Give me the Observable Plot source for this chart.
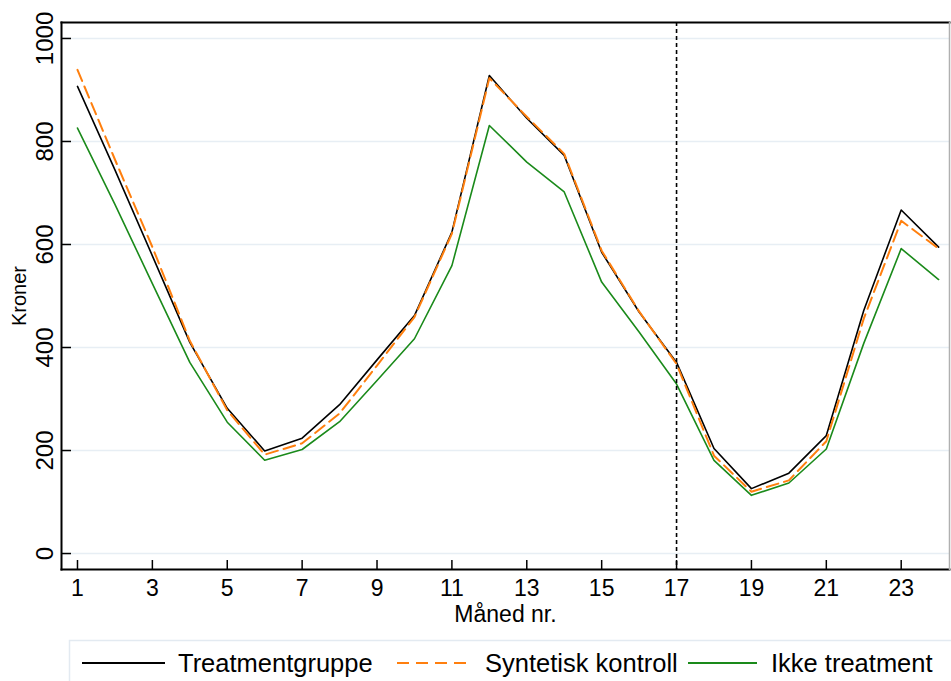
<!DOCTYPE html>
<html>
<head>
<meta charset="utf-8">
<script src="https://cdn.jsdelivr.net/npm/d3@7"></script>
<script src="https://cdn.jsdelivr.net/npm/@observablehq/plot@0.6"></script>
<style>
  body { margin: 0; background: #fff; font-family: "Liberation Sans", Arial, sans-serif; }
  #wrap { position: relative; width: 951px; height: 681px; overflow: hidden; background: #fff; }
  #chart { position: absolute; left: 0; top: 0; }
  #legend { position: absolute; left: 0; top: 630px; }
</style>
</head>
<body>
<div id="wrap">
  <div id="chart"></div>
  <svg id="legend" width="951" height="51"></svg>
</div>
<script>
// ---- data ----
const months = [1,2,3,4,5,6,7,8,9,10,11,12,13,14,15,16,17,18,19,20,21,22,23,24];
const treatment = [907,745,578,410,282,199,224,289,376,462,624,928,845,773,585,469,371,204,126,156,229,472,667,595];
const synthetic = [939,765,595,413,278,192,214,272,365,459,621,923,848,776,588,470,368,190,120,142,218,456,646,592];
const untreated = [826,678,524,371,255,181,202,256,336,417,559,831,760,702,527,430,329,181,113,137,203,408,592,532];
const seriesNames = ["Treatmentgruppe", "Syntetisk kontroll", "Ikke treatment"];
const xTicks = [1,3,5,7,9,11,13,15,17,19,21,23];
const yTicks = [0,200,400,600,800,1000];
const interventionMonth = 17;
const xLabel = "Måned nr.";
const yLabel = "Kroner";

const colors = { treat: "#000000", synth: "#ff7f0e", ikke: "#1a8a1a" };
const font = '"Liberation Sans", Arial, sans-serif';

const rows = months.map((m, i) => ({ m, treat: treatment[i], synth: synthetic[i], ikke: untreated[i] }));

const plot = Plot.plot({
  width: 951,
  height: 630,
  marginLeft: 61,
  marginRight: 2,
  marginTop: 22,
  marginBottom: 61,
  style: { fontFamily: font, fontSize: "24px", color: "black", background: "white" },
  x: { domain: [0.573, 24.29], label: null },
  y: { domain: [-31, 1031], label: null },
  marks: [
    Plot.gridY(yTicks, { stroke: "#e7eef4", strokeOpacity: 1, strokeWidth: 1.5 }),
    Plot.axisY(yTicks, { tickSize: -10, tickFormat: () => "", label: null, strokeWidth: 1.5 }),
    Plot.axisX(xTicks, { tickSize: -9, tickFormat: () => "", label: null, strokeWidth: 1.5 }),
    Plot.text(yTicks, { y: d => d, text: d => String(d), frameAnchor: "left", dx: -9, rotate: -90,
      textAnchor: "middle", lineAnchor: "bottom", fontSize: 24, fill: "black" }),
    Plot.text(xTicks, { x: d => d, text: d => String(d), frameAnchor: "bottom", dy: 10,
      lineAnchor: "top", fontSize: 23, fill: "black" }),
    Plot.text([xLabel], { text: d => d, frameAnchor: "bottom", dy: 36, lineAnchor: "top", fontSize: 23, fill: "black" }),
    Plot.text([yLabel], { text: d => d, frameAnchor: "left", dx: -36, rotate: -90, lineAnchor: "bottom",
      textAnchor: "middle", fontSize: 20, fill: "black" }),
    Plot.line(rows, { x: "m", y: "ikke", stroke: colors.ikke, strokeWidth: 1.6 }),
    Plot.line(rows, { x: "m", y: "treat", stroke: colors.treat, strokeWidth: 1.6 }),
    Plot.line(rows, { x: "m", y: "synth", stroke: colors.synth, strokeWidth: 2, strokeDasharray: "12,6" }),
    Plot.ruleX([interventionMonth], { stroke: "black", strokeWidth: 1.6, strokeDasharray: "4,3" }),
    Plot.frame({ anchor: "left", stroke: "black", strokeWidth: 2 }),
    Plot.frame({ anchor: "bottom", stroke: "black", strokeWidth: 2 }),
    Plot.frame({ anchor: "top", stroke: "black", strokeWidth: 2 }),
    Plot.frame({ anchor: "right", stroke: "#b0b0b0", strokeWidth: 1.5 })
  ]
});
document.getElementById("chart").appendChild(plot);

// ---- legend ----
const lg = d3.select("#legend");
lg.append("rect").attr("x", 69.5).attr("y", 10.5).attr("width", 900).attr("height", 60)
  .attr("fill", "none").attr("stroke", "#e3eaf1").attr("stroke-width", 1.5);
const items = [
  { name: seriesNames[0], color: colors.treat, dash: null, w: 2, x1: 82, x2: 165, tx: 178 },
  { name: seriesNames[1], color: colors.synth, dash: "12,7", w: 2.2, x1: 397, x2: 470, tx: 485 },
  { name: seriesNames[2], color: colors.ikke, dash: null, w: 2, x1: 688, x2: 757, tx: 771 }
];
for (const it of items) {
  lg.append("line").attr("x1", it.x1).attr("x2", it.x2).attr("y1", 33).attr("y2", 33)
    .attr("stroke", it.color).attr("stroke-width", it.w).attr("stroke-dasharray", it.dash);
  lg.append("text").attr("x", it.tx).attr("y", 42).text(it.name)
    .attr("font-family", font).attr("font-size", 25.5).attr("fill", "black");
}
</script>
</body>
</html>
